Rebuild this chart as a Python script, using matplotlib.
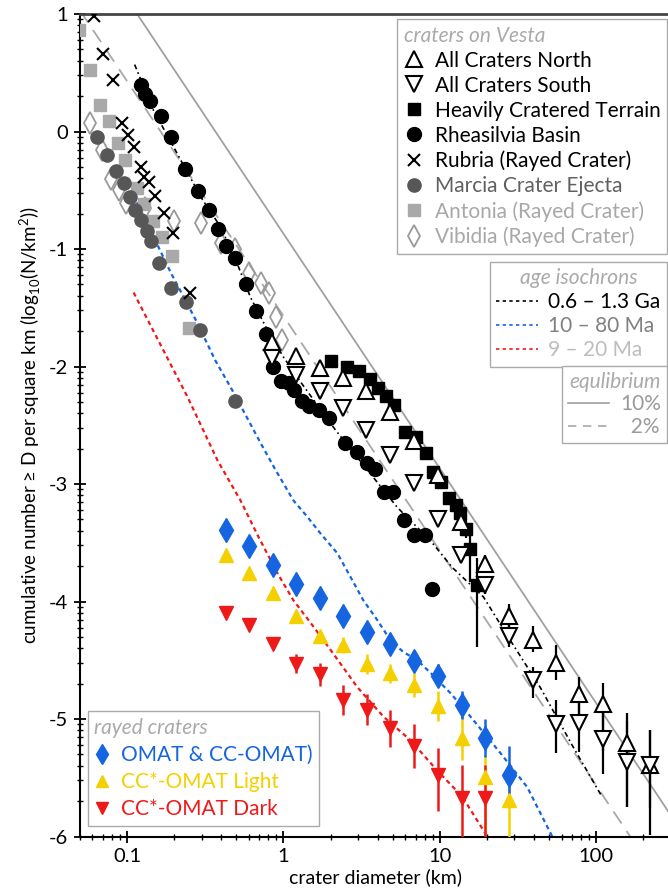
import numpy as np
import matplotlib.pyplot as plt
from matplotlib.lines import Line2D
from matplotlib.ticker import FixedLocator, NullFormatter

plt.rcParams['font.family'] = ['Lato', 'DejaVu Sans']
plt.rcParams['mathtext.fontset'] = 'custom'
plt.rcParams['mathtext.rm'] = 'Lato'
plt.rcParams['axes.unicode_minus'] = False

# ---- data (crater diameter in km, log10 cumulative density) ----
bins_big = [0.847, 1.21, 1.71, 2.41, 3.39, 4.83, 6.80, 9.68, 13.6, 19.5,
            27.5, 39.2, 55.3, 77.9, 110, 157, 221]
north_y = [-1.79, -1.91, -2.01, -2.10, -2.21, -2.39, -2.63, -2.92, -3.32, -3.68,
           -4.12, -4.33, -4.52, -4.79, -4.87, -5.20, -5.39]
north_lo = [0, 0, 0, 0, 0, 0, 0.02, 0.03, 0.05, 0.08, 0.10, 0.10, 0.15, 0.25, 0.40, 0.55, 0.60]
north_hi = [0, 0, 0, 0, 0, 0, 0.02, 0.03, 0.05, 0.08, 0.10, 0.12, 0.15, 0.15, 0.18, 0.25, 0.30]
south_y = [-1.93, -2.07, -2.21, -2.35, -2.54, -2.75, -2.99, -3.30, -3.60, -3.86,
           -4.29, -4.67, -5.04, -5.03, -5.17, -5.37, -5.39]
south_lo = [0, 0, 0, 0, 0, 0, 0.02, 0.03, 0.05, 0.08, 0.10, 0.15, 0.25, 0.25, 0.30, 0.38, 0.37]
south_hi = [0, 0, 0, 0, 0, 0, 0.02, 0.03, 0.05, 0.08, 0.24, 0.11, 0.20, 0.20, 0.30, 0.35, 0.30]

hct_d = [2.0, 2.55, 3.03, 3.56, 4.01, 4.55, 5.12, 6.02, 7.05, 8.16, 9.05, 10.2,
         11.4, 12.7, 13.5, 14.6, 15.5, 17.4]
hct_y = [-1.95, -2.00, -2.04, -2.11, -2.18, -2.25, -2.33, -2.56, -2.60, -2.74, -2.90, -2.98,
         -3.12, -3.18, -3.25, -3.38, -3.55, -3.86]
hct_lo = [0, 0, 0, 0, 0, 0, 0, 0, 0, 0, 0, 0, 0, 0.04, 0.06, 0.08, 0.28, 0.53]
hct_hi = [0, 0, 0, 0, 0, 0, 0, 0, 0, 0, 0, 0, 0, 0.04, 0.06, 0.08, 0.15, 0.23]

rhea_d = [0.122, 0.131, 0.141, 0.164, 0.190, 0.234, 0.285, 0.333, 0.384, 0.430, 0.489,
          0.578, 0.672, 0.775, 0.859, 0.967, 1.081, 1.164, 1.316, 1.451, 1.682, 1.967,
          2.49, 2.96, 3.43, 3.87, 4.37, 5.02, 5.93, 6.80, 8.08, 8.92]
rhea_y = [0.40, 0.32, 0.26, 0.13, -0.05, -0.32, -0.51, -0.67, -0.83, -0.97, -1.08,
          -1.30, -1.53, -1.72, -2.00, -2.12, -2.14, -2.20, -2.29, -2.34, -2.37, -2.44,
          -2.65, -2.73, -2.82, -2.87, -3.07, -3.07, -3.31, -3.43, -3.43, -3.89]

rubria_d = [0.061, 0.0697, 0.0808, 0.0922, 0.1007, 0.110, 0.122, 0.129, 0.139, 0.150,
            0.171, 0.198, 0.251]
rubria_y = [0.98, 0.66, 0.44, 0.07, -0.03, -0.13, -0.30, -0.39, -0.43, -0.55,
            -0.69, -0.86, -1.37]

marcia_d = [0.0645, 0.0740, 0.0853, 0.0954, 0.104, 0.113, 0.122, 0.135, 0.143, 0.161,
            0.190, 0.239, 0.291, 0.489]
marcia_y = [-0.05, -0.20, -0.34, -0.44, -0.56, -0.67, -0.75, -0.85, -0.93, -1.12,
            -1.33, -1.45, -1.69, -2.29]

antonia_d = [0.0493, 0.0578, 0.067, 0.0765, 0.0873, 0.0964, 0.116, 0.129, 0.147,
             0.168, 0.195, 0.250]
antonia_y = [0.86, 0.52, 0.23, 0.09, -0.10, -0.24, -0.48, -0.62, -0.76, -0.90, -1.06, -1.67]

vibidia_d = [0.0578, 0.0695, 0.0785, 0.0887, 0.0978, 0.131, 0.199, 0.297, 0.396,
             0.493, 0.600, 0.713, 0.805, 0.902, 0.981]
vibidia_y = [0.07, -0.16, -0.40, -0.50, -0.61, -0.65, -0.76, -0.78, -0.95, -1.00,
             -1.20, -1.29, -1.37, -1.58, -1.77]

rayed_d = [0.426, 0.600, 0.855, 1.205, 1.706, 2.41, 3.43, 4.83, 6.87, 9.74, 13.9, 19.5, 27.5]
omat_y = [-3.39, -3.53, -3.69, -3.85, -3.97, -4.12, -4.26, -4.36, -4.51, -4.63, -4.88, -5.16, -5.48]
omat_err = [0, 0, 0, 0, 0, 0, 0, 0.05, 0.08, 0.10, 0.12, 0.16, 0.25]
light_y = [-3.60, -3.76, -3.93, -4.12, -4.29, -4.37, -4.53, -4.61, -4.71, -4.89, -5.16, -5.49, -5.69]
light_lo = [0, 0, 0, 0, 0, 0.07, 0.085, 0.08, 0.10, 0.13, 0.19, 0.50, 0.40]
light_hi = [0, 0, 0, 0, 0, 0.07, 0.085, 0.08, 0.10, 0.13, 0.19, 0.18, 0.30]
dark_d = [0.426, 0.600, 0.855, 1.205, 1.706, 2.41, 3.43, 4.83, 6.87, 9.74, 13.9, 19.5]
dark_y = [-4.10, -4.20, -4.36, -4.53, -4.62, -4.84, -4.92, -5.08, -5.23, -5.48, -5.67, -5.67]
dark_lo = [0, 0, 0, 0.08, 0.10, 0.13, 0.13, 0.16, 0.19, 0.30, 0.40, 0.40]
dark_hi = [0, 0, 0, 0.08, 0.10, 0.13, 0.13, 0.16, 0.19, 0.23, 0.28, 0.28]

# isochrons
iso_old_d = [0.1117, 0.1476, 0.198, 0.2436, 0.3036, 0.3954, 0.515, 0.615, 0.790, 1.0,
             1.284, 2.149, 3.44, 5.35, 8.69, 12.0, 18.97, 28.2, 43.8, 71.3, 107.6]
iso_old_y = [0.57, 0.18, -0.13, -0.35, -0.58, -0.81, -1.15, -1.41, -1.69, -1.92,
             -2.13, -2.54, -2.88, -3.20, -3.48, -3.71, -3.96, -4.33, -4.73, -5.24, -5.65]
iso_mid_d = [0.110, 0.141, 0.190, 0.274, 0.367, 0.479, 0.713, 0.889, 1.158, 1.423, 1.723,
             2.213, 2.68, 3.24, 3.99, 4.83, 5.84, 7.18, 9.08, 11.7, 15.7, 24.4, 36.2, 52.3]
iso_mid_y = [-0.54, -0.84, -1.20, -1.60, -1.95, -2.22, -2.65, -2.88, -3.14, -3.28, -3.42,
             -3.59, -3.79, -3.99, -4.16, -4.33, -4.43, -4.50, -4.63, -4.78, -4.98, -5.29,
             -5.58, -6.00]
iso_young_d = [0.110, 0.135, 0.2436, 0.379, 0.531, 0.692, 0.916, 1.158, 1.488, 1.996,
               2.97, 4.36, 6.48, 9.64, 13.9, 20.1]
iso_young_y = [-1.37, -1.60, -2.26, -2.80, -3.14, -3.45, -3.76, -3.99, -4.18, -4.41,
               -4.73, -4.98, -5.18, -5.44, -5.66, -6.00]

# equilibrium lines (end points)
eq_d = [0.05, 300]
eq10_y = [1.73, -5.82]
eq2_y = [1.03, -6.52]

BLUE = '#1565e0'
GOLD = '#f5d000'
RED = '#ee1a1a'
FS = 15

fig = plt.figure(figsize=(6.68, 8.94), dpi=100)
ax = fig.add_axes([0.1198, 0.0643, 0.8845, 0.92])
ax.set_xscale('log')

# lines
ax.plot(eq_d, eq10_y, color='#a0a0a0', lw=1.3, zorder=1)
ax.plot(eq_d, eq2_y, color='#a8a8a8', lw=1.3, ls=(0, (8, 5)), zorder=1)
ax.plot(iso_old_d, iso_old_y, color='black', lw=1.2, ls=(0, (3, 2, 1, 2)), zorder=2)
ax.plot(iso_mid_d, iso_mid_y, color=BLUE, lw=1.6, ls=(0, (2, 1.6)), zorder=2)
ax.plot(iso_young_d, iso_young_y, color=RED, lw=1.6, ls=(0, (2, 1.6)), zorder=2)

# Vesta crater groups
ax.plot(vibidia_d, vibidia_y, 'd', ms=11, mfc='none', mec='#9a9a9a', mew=1.3, zorder=3)
ax.plot(antonia_d, antonia_y, 's', ms=9, color='#a9a9a9', zorder=4)
ax.plot(marcia_d, marcia_y, 'o', ms=9.5, color='#575757', zorder=5)
ax.plot(rubria_d, rubria_y, 'x', ms=9, mew=1.5, color='black', zorder=6)
ax.plot(rhea_d, rhea_y, 'o', ms=10, color='black', zorder=6)

ax.errorbar(hct_d, hct_y, yerr=[hct_lo, hct_hi], fmt='none', ecolor='black', elinewidth=1.6, zorder=6)
ax.plot(hct_d, hct_y, 's', ms=8.5, color='black', zorder=7)
ax.errorbar(bins_big, north_y, yerr=[north_lo, north_hi], fmt='none', ecolor='black', elinewidth=1.6, zorder=6)
ax.errorbar(bins_big, south_y, yerr=[south_lo, south_hi], fmt='none', ecolor='black', elinewidth=1.6, zorder=6)
ax.plot(bins_big, north_y, '^', ms=11, mfc='white', mec='black', mew=1.5, zorder=8)
ax.plot(bins_big, south_y, 'v', ms=11, mfc='white', mec='black', mew=1.5, zorder=8)

# rayed craters
ax.errorbar(rayed_d, light_y, yerr=[light_lo, light_hi], fmt='none', ecolor=GOLD, elinewidth=1.8, zorder=6)
ax.errorbar(dark_d, dark_y, yerr=[dark_lo, dark_hi], fmt='none', ecolor=RED, elinewidth=1.8, zorder=6)
ax.errorbar(rayed_d, omat_y, yerr=omat_err, fmt='none', ecolor=BLUE, elinewidth=1.8, zorder=6)
ax.plot(rayed_d, light_y, '^', ms=9.5, color=GOLD, zorder=7)
ax.plot(dark_d, dark_y, 'v', ms=9.5, color=RED, zorder=7)
ax.plot(rayed_d, omat_y, 'd', ms=12, color=BLUE, zorder=7)

# axes styling
ax.set_xlim(0.05, 300)
ax.set_ylim(-6, 1)
ax.spines['right'].set_visible(False)
ax.spines['top'].set_color('#444444')
ax.spines['top'].set_linewidth(2)
for s in ('left', 'bottom'):
    ax.spines[s].set_linewidth(1.5)

ax.xaxis.set_major_locator(FixedLocator([0.1, 1, 10, 100]))
ax.set_xticklabels(['0.1', '1', '10', '100'])
xminor = [k * 10.0 ** e for e in range(-2, 3) for k in range(2, 10)]
ax.xaxis.set_minor_locator(FixedLocator(xminor))
ax.xaxis.set_minor_formatter(NullFormatter())

ax.set_yticks(range(-6, 2))
ax.set_yticklabels([str(v) for v in range(-6, 2)])
yminor = [n + np.log10(k) for n in range(-6, 1) for k in range(2, 10)]
ax.yaxis.set_minor_locator(FixedLocator(yminor))

ax.tick_params(which='major', direction='inout', length=9, width=1.3, labelsize=14.5, pad=4)
ax.tick_params(which='minor', direction='inout', length=5, width=1.0)
ax.tick_params(top=False, right=False, which='both')

ax.set_xlabel('crater diameter (km)', fontsize=14, labelpad=2)
ax.set_ylabel(r'cumulative number ≥ D per square km (log$_{10}$(N/km$^2$))', fontsize=13.5, labelpad=4)

# legends
frame_kw = dict(frameon=True, fancybox=False, edgecolor='#aaaaaa', framealpha=1,
                borderpad=0.3, handletextpad=0.5, borderaxespad=0)
title_fp = {'size': FS, 'style': 'italic'}

h1 = [Line2D([], [], ls='none', marker='^', ms=11, mfc='white', mec='black', mew=1.5),
      Line2D([], [], ls='none', marker='v', ms=11, mfc='white', mec='black', mew=1.5),
      Line2D([], [], ls='none', marker='s', ms=8.5, color='black'),
      Line2D([], [], ls='none', marker='o', ms=10, color='black'),
      Line2D([], [], ls='none', marker='x', ms=9, mew=1.5, color='black'),
      Line2D([], [], ls='none', marker='o', ms=9.5, color='#575757'),
      Line2D([], [], ls='none', marker='s', ms=9, color='#a9a9a9'),
      Line2D([], [], ls='none', marker='d', ms=11, mfc='none', mec='#9a9a9a', mew=1.3)]
l1 = ['All Craters North', 'All Craters South', 'Heavily Cratered Terrain', 'Rheasilvia Basin',
      'Rubria (Rayed Crater)', 'Marcia Crater Ejecta', 'Antonia (Rayed Crater)', 'Vibidia (Rayed Crater)']
c1 = ['black'] * 5 + ['#606060', '#a8a8a8', '#a8a8a8']
leg1 = ax.legend(h1, l1, loc='upper right', bbox_to_anchor=(0.9985, 1 - 19.3 / 894),
                 bbox_transform=fig.transFigure, fontsize=FS, handlelength=1.0,
                 labelspacing=0.24, title='craters on Vesta', alignment='left',
                 title_fontproperties=title_fp, **frame_kw)
leg1.get_title().set_color('#aaaaaa')
for t, c in zip(leg1.get_texts(), c1):
    t.set_color(c)
ax.add_artist(leg1)

h2 = [Line2D([], [], color='black', lw=1.2, ls=(0, (2, 2))),
      Line2D([], [], color=BLUE, lw=1.2, ls=(0, (2, 2))),
      Line2D([], [], color=RED, lw=1.2, ls=(0, (2, 2)))]
l2 = ['0.6 – 1.3 Ga', '10 – 80 Ma', '9 – 20 Ma']
c2 = ['black', '#808080', '#bdbdbd']
leg2 = ax.legend(h2, l2, loc='upper right', bbox_to_anchor=(0.9985, 1 - 261.7 / 894),
                 bbox_transform=fig.transFigure, fontsize=FS, handlelength=2.0,
                 labelspacing=0.2, title='age isochrons', alignment='center',
                 title_fontproperties=title_fp, **frame_kw)
leg2.get_title().set_color('#aaaaaa')
for t, c in zip(leg2.get_texts(), c2):
    t.set_color(c)
ax.add_artist(leg2)

h3 = [Line2D([], [], color='#a0a0a0', lw=1.2),
      Line2D([], [], color='#a8a8a8', lw=1.2, ls=(0, (5, 4)))]
l3 = ['10%', '  2%']
leg3 = ax.legend(h3, l3, loc='upper right', bbox_to_anchor=(0.9985, 1 - 365.7 / 894),
                 bbox_transform=fig.transFigure, fontsize=FS, handlelength=2.0,
                 labelspacing=0.12, title='equlibrium', alignment='right',
                 title_fontproperties=title_fp, **frame_kw)
leg3.get_title().set_color('#aaaaaa')
for t in leg3.get_texts():
    t.set_color('#9a9a9a')
ax.add_artist(leg3)

h4 = [Line2D([], [], ls='none', marker='d', ms=10, color=BLUE),
      Line2D([], [], ls='none', marker='^', ms=8, color=GOLD),
      Line2D([], [], ls='none', marker='v', ms=8, color=RED)]
l4 = ['OMAT & CC-OMAT)', 'CC*-OMAT Light', 'CC*-OMAT Dark']
leg4 = ax.legend(h4, l4, loc='lower left', bbox_to_anchor=(87.7 / 668, 1 - 825.7 / 894),
                 bbox_transform=fig.transFigure, fontsize=FS, handlelength=0.8,
                 labelspacing=0.35, title='rayed craters', alignment='left',
                 title_fontproperties=title_fp, **frame_kw)
leg4.get_title().set_color('#aaaaaa')
for t, c in zip(leg4.get_texts(), [BLUE, GOLD, RED]):
    t.set_color(c)

fig.savefig('out.png', dpi=100)
